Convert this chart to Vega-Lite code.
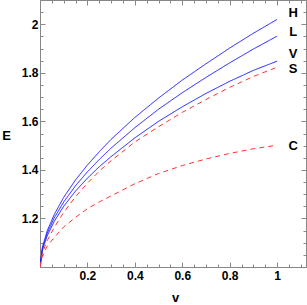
{
  "$schema": "https://vega.github.io/schema/vega-lite/v6.json",
  "width": 266,
  "height": 267,
  "autosize": "none",
  "padding": {"left": 40, "top": 0, "right": 1, "bottom": 38},
  "background": "white",
  "config": {
    "view": {"stroke": "#888888", "strokeWidth": 1},
    "font": "Liberation Sans",
    "axis": {
      "domainColor": "#888888",
      "tickColor": "#888888",
      "grid": false,
      "labelFont": "Liberation Sans",
      "labelFontWeight": "bold",
      "labelFontSize": 12,
      "labelColor": "black",
      "titleFont": "Liberation Sans",
      "titleFontWeight": "bold",
      "titleFontSize": 13,
      "titleColor": "black"
    }
  },
  "datasets": {
    "curves": [
      {"series": "H", "v": 0, "E": 1.0},
      {"series": "H", "v": 0.01, "E": 1.081},
      {"series": "H", "v": 0.03, "E": 1.148},
      {"series": "H", "v": 0.06, "E": 1.216},
      {"series": "H", "v": 0.1, "E": 1.287},
      {"series": "H", "v": 0.15, "E": 1.359},
      {"series": "H", "v": 0.2, "E": 1.42},
      {"series": "H", "v": 0.25, "E": 1.475},
      {"series": "H", "v": 0.3, "E": 1.526},
      {"series": "H", "v": 0.4, "E": 1.616},
      {"series": "H", "v": 0.5, "E": 1.696},
      {"series": "H", "v": 0.6, "E": 1.77},
      {"series": "H", "v": 0.7, "E": 1.837},
      {"series": "H", "v": 0.8, "E": 1.902},
      {"series": "H", "v": 0.9, "E": 1.963},
      {"series": "H", "v": 1.0, "E": 2.02},
      {"series": "L", "v": 0, "E": 1.0},
      {"series": "L", "v": 0.01, "E": 1.075},
      {"series": "L", "v": 0.03, "E": 1.138},
      {"series": "L", "v": 0.06, "E": 1.202},
      {"series": "L", "v": 0.1, "E": 1.268},
      {"series": "L", "v": 0.15, "E": 1.335},
      {"series": "L", "v": 0.2, "E": 1.392},
      {"series": "L", "v": 0.25, "E": 1.443},
      {"series": "L", "v": 0.3, "E": 1.49},
      {"series": "L", "v": 0.4, "E": 1.574},
      {"series": "L", "v": 0.5, "E": 1.65},
      {"series": "L", "v": 0.6, "E": 1.718},
      {"series": "L", "v": 0.7, "E": 1.781},
      {"series": "L", "v": 0.8, "E": 1.841},
      {"series": "L", "v": 0.9, "E": 1.898},
      {"series": "L", "v": 1.0, "E": 1.951},
      {"series": "V", "v": 0, "E": 1.0},
      {"series": "V", "v": 0.01, "E": 1.07},
      {"series": "V", "v": 0.03, "E": 1.128},
      {"series": "V", "v": 0.06, "E": 1.188},
      {"series": "V", "v": 0.1, "E": 1.25},
      {"series": "V", "v": 0.15, "E": 1.313},
      {"series": "V", "v": 0.2, "E": 1.366},
      {"series": "V", "v": 0.25, "E": 1.413},
      {"series": "V", "v": 0.3, "E": 1.455},
      {"series": "V", "v": 0.4, "E": 1.532},
      {"series": "V", "v": 0.5, "E": 1.6},
      {"series": "V", "v": 0.6, "E": 1.66},
      {"series": "V", "v": 0.7, "E": 1.715},
      {"series": "V", "v": 0.8, "E": 1.765},
      {"series": "V", "v": 0.9, "E": 1.81},
      {"series": "V", "v": 1.0, "E": 1.848},
      {"series": "S", "v": 0, "E": 1.0},
      {"series": "S", "v": 0.01, "E": 1.058},
      {"series": "S", "v": 0.03, "E": 1.108},
      {"series": "S", "v": 0.06, "E": 1.163},
      {"series": "S", "v": 0.1, "E": 1.225},
      {"series": "S", "v": 0.15, "E": 1.29},
      {"series": "S", "v": 0.2, "E": 1.345},
      {"series": "S", "v": 0.25, "E": 1.395},
      {"series": "S", "v": 0.3, "E": 1.438},
      {"series": "S", "v": 0.4, "E": 1.515},
      {"series": "S", "v": 0.5, "E": 1.578},
      {"series": "S", "v": 0.6, "E": 1.637},
      {"series": "S", "v": 0.7, "E": 1.69},
      {"series": "S", "v": 0.8, "E": 1.74},
      {"series": "S", "v": 0.9, "E": 1.785},
      {"series": "S", "v": 1.0, "E": 1.823},
      {"series": "C", "v": 0, "E": 1.0},
      {"series": "C", "v": 0.01, "E": 1.045},
      {"series": "C", "v": 0.03, "E": 1.085},
      {"series": "C", "v": 0.06, "E": 1.122},
      {"series": "C", "v": 0.1, "E": 1.165},
      {"series": "C", "v": 0.15, "E": 1.205},
      {"series": "C", "v": 0.2, "E": 1.24},
      {"series": "C", "v": 0.25, "E": 1.268},
      {"series": "C", "v": 0.3, "E": 1.293},
      {"series": "C", "v": 0.4, "E": 1.343},
      {"series": "C", "v": 0.5, "E": 1.385},
      {"series": "C", "v": 0.6, "E": 1.418},
      {"series": "C", "v": 0.7, "E": 1.445},
      {"series": "C", "v": 0.8, "E": 1.468},
      {"series": "C", "v": 0.9, "E": 1.487},
      {"series": "C", "v": 1.0, "E": 1.502}
    ],
    "labels": [
      {"series": "H", "v": 1.068, "E": 2.047},
      {"series": "L", "v": 1.068, "E": 1.968},
      {"series": "V", "v": 1.068, "E": 1.878},
      {"series": "S", "v": 1.068, "E": 1.816},
      {"series": "C", "v": 1.068, "E": 1.499}
    ]
  },
  "layer": [
    {
      "data": {"name": "curves"},
      "mark": {"type": "line", "strokeWidth": 1, "clip": true},
      "encoding": {
        "x": {
          "field": "v", "type": "quantitative",
          "scale": {"domain": [0, 1.122], "nice": false, "zero": false},
          "axis": {
            "orient": "bottom",
            "title": "v",
            "titleX": 135, "titleY": 30, "titleAlign": "center", "titleBaseline": "middle",
            "values": [0.05,0.1,0.15,0.2,0.25,0.3,0.35,0.4,0.45,0.5,0.55,0.6,0.65,0.7,0.75,0.8,0.85,0.9,0.95,1.0,1.05,1.1],
            "labelExpr": "abs(datum.value*5-round(datum.value*5))<0.001 ? toString(round(datum.value*10)/10) : ''",
            "tickSize": {"condition": {"test": "abs(datum.value*5-round(datum.value*5))<0.001", "value": -5}, "value": -3},
            "labelPadding": 8,
            "labelFlush": false,
            "labelOverlap": false
          }
        },
        "y": {
          "field": "E", "type": "quantitative",
          "scale": {"domain": [1.0, 2.1], "nice": false, "zero": false},
          "axis": {
            "orient": "left",
            "title": "E",
            "titleAngle": 0,
            "titleX": -34, "titleY": 135, "titleAlign": "center", "titleBaseline": "middle",
            "values": [1.05,1.1,1.15,1.2,1.25,1.3,1.35,1.4,1.45,1.5,1.55,1.6,1.65,1.7,1.75,1.8,1.85,1.9,1.95,2.0,2.05],
            "labelExpr": "abs(datum.value*5-round(datum.value*5))<0.001 ? toString(round(datum.value*10)/10) : ''",
            "tickSize": {"condition": {"test": "abs(datum.value*5-round(datum.value*5))<0.001", "value": -5}, "value": -3},
            "labelPadding": 7,
            "labelFlush": false,
            "labelOverlap": false
          }
        },
        "color": {
          "field": "series", "type": "nominal",
          "scale": {"domain": ["H","L","V","S","C"], "range": ["#1a1aff","#1a1aff","#1a1aff","#ff3333","#ff3333"]},
          "legend": null
        },
        "strokeDash": {
          "field": "series", "type": "nominal",
          "scale": {"domain": ["H","L","V","S","C"], "range": [[1,0],[1,0],[1,0],[5,4],[5,4]]},
          "legend": null
        }
      }
    },
    {
      "data": {"name": "labels"},
      "mark": {"type": "text", "font": "Liberation Sans", "fontWeight": "bold", "fontSize": 13, "align": "center", "baseline": "middle", "color": "black"},
      "encoding": {
        "x": {
          "field": "v", "type": "quantitative",
          "axis": {
            "orient": "top", "title": null, "labels": false,
            "values": [0.05,0.1,0.15,0.2,0.25,0.3,0.35,0.4,0.45,0.5,0.55,0.6,0.65,0.7,0.75,0.8,0.85,0.9,0.95,1.0,1.05,1.1],
            "tickSize": {"condition": {"test": "abs(datum.value*5-round(datum.value*5))<0.001", "value": -5}, "value": -3}
          }
        },
        "y": {
          "field": "E", "type": "quantitative",
          "axis": {
            "orient": "right", "title": null, "labels": false,
            "values": [1.05,1.1,1.15,1.2,1.25,1.3,1.35,1.4,1.45,1.5,1.55,1.6,1.65,1.7,1.75,1.8,1.85,1.9,1.95,2.0,2.05],
            "tickSize": {"condition": {"test": "abs(datum.value*5-round(datum.value*5))<0.001", "value": -5}, "value": -3}
          }
        },
        "text": {"field": "series", "type": "nominal"}
      }
    }
  ],
  "resolve": {"axis": {"x": "independent", "y": "independent"}}
}
